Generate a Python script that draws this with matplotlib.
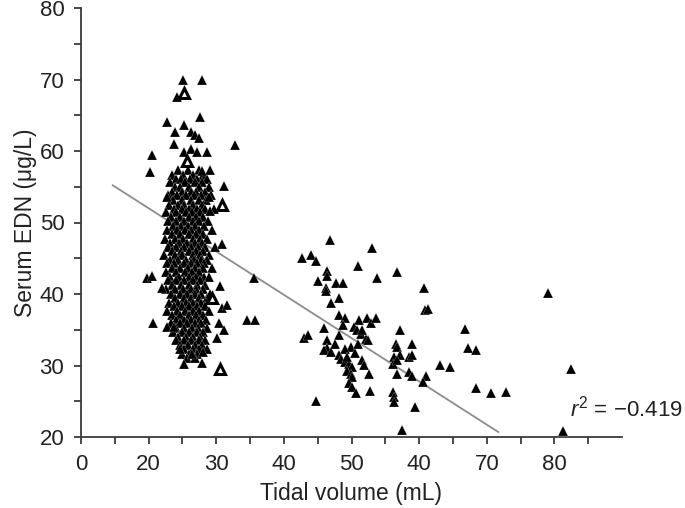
import matplotlib
matplotlib.use("Agg")
import matplotlib.pyplot as plt

plt.rcParams['font.family'] = ['Liberation Sans', 'DejaVu Sans']
plt.rcParams['mathtext.fontset'] = 'custom'
plt.rcParams['mathtext.rm'] = 'Liberation Sans'
plt.rcParams['mathtext.it'] = 'Liberation Sans:italic'

# ---- data ----
# dense core of the first cluster: one y value per row, several x values per row
dense_y = [57.3, 56.7, 56.1, 55.6, 55.0, 54.3, 53.8, 53.1, 52.5, 51.9, 51.4, 50.7,
           50.2, 49.5, 48.9, 48.4, 47.7, 47.2, 46.6, 46.0, 45.5, 44.8, 44.3, 43.6,
           43.1, 42.4, 41.9, 41.2, 40.7, 40.0, 39.5, 38.8, 38.3, 37.6, 37.1, 36.4,
           35.9, 35.2, 34.7, 34.0, 33.5, 32.8, 32.3, 31.6, 31.0]
dense_x = [
    [24.3, 25.8, 27.4],
    [23.4, 25.1, 26.5, 28.0],
    [24.0, 24.8, 26.1, 27.2, 28.6],
    [23.1, 25.4, 26.8, 27.9],
    [23.9, 24.6, 25.9, 27.5, 28.9],
    [23.4, 25.0, 26.3, 27.0, 28.3],
    [22.8, 24.2, 25.6, 26.7, 27.8, 29.2],
    [23.6, 24.9, 26.2, 27.4, 28.5],
    [23.0, 24.4, 25.3, 26.6, 27.9],
    [23.8, 25.0, 25.9, 27.1, 28.3, 29.6],
    [22.6, 24.1, 25.5, 26.4, 27.6],
    [23.3, 24.7, 26.0, 27.0, 28.1],
    [22.9, 24.0, 25.2, 26.6, 27.5, 28.8],
    [23.6, 24.8, 25.8, 26.9, 28.2],
    [22.7, 24.2, 25.4, 26.3, 27.4, 29.4],
    [23.4, 24.6, 26.0, 27.0, 28.0],
    [22.4, 23.9, 25.1, 26.5, 27.6, 28.7],
    [23.2, 24.5, 25.7, 26.8, 27.9],
    [22.8, 24.0, 25.3, 26.2, 27.3, 28.4, 29.8],
    [23.5, 24.8, 25.9, 27.0, 28.1],
    [22.3, 23.9, 25.0, 26.5, 27.6, 29.0],
    [23.1, 24.4, 25.6, 26.7, 27.8, 28.6],
    [22.7, 23.8, 25.2, 26.2, 27.2, 28.2],
    [23.4, 24.7, 25.8, 26.9, 28.0, 29.3],
    [22.5, 24.0, 25.4, 26.4, 27.5],
    [23.2, 24.5, 25.9, 27.0, 28.2, 29.0],
    [22.8, 24.1, 25.3, 26.6, 27.6],
    [23.5, 24.8, 26.0, 27.2, 28.4],
    [22.6, 23.9, 25.1, 26.3, 27.0, 28.0],
    [23.3, 24.6, 25.7, 26.8, 27.8],
    [23.9, 25.2, 26.3, 27.4, 28.6],
    [23.0, 24.4, 25.6, 26.6, 27.7],
    [23.7, 24.9, 26.0, 27.2, 28.3],
    [22.7, 24.2, 25.4, 26.5, 27.5, 28.9],
    [23.5, 24.7, 25.9, 27.0, 28.0],
    [24.0, 25.2, 26.3, 27.4, 28.5],
    [23.3, 24.6, 25.7, 26.8, 27.8],
    [24.1, 25.3, 26.4, 27.3, 28.6],
    [23.6, 24.9, 26.0, 27.1, 28.1],
    [24.4, 25.6, 26.6, 27.6],
    [24.0, 25.2, 26.3, 27.4, 28.4],
    [24.7, 25.8, 26.9, 27.9],
    [25.3, 26.5, 27.5, 28.6],
    [24.9, 26.0, 27.1],
    [25.7, 26.8],
]

# isolated points around the first cluster
outer1_x = [25.1, 27.9, 24.2, 22.7, 27.6, 25.2, 23.9, 26.2, 26.9, 27.5, 23.8, 32.8,
            20.5, 25.2, 26.2, 27.2, 28.6, 20.2, 29.1, 27.9, 31.1, 22.7, 28.9, 29.1,
            30.9, 35.6, 19.7, 20.5, 22.0, 30.6, 29.1, 30.9, 31.6, 20.7, 34.6, 35.8,
            22.7, 23.7, 30.4, 31.1, 30.1, 24.7, 26.4, 28.1, 25.2, 27.9]
outer1_y = [69.9, 69.9, 67.5, 64.0, 64.7, 63.7, 62.6, 62.7, 62.3, 61.8, 61.0, 60.9,
            59.4, 59.9, 60.3, 59.9, 59.9, 57.0, 57.4, 57.2, 55.1, 53.5, 53.5, 51.6,
            47.0, 42.2, 42.2, 42.5, 40.9, 41.1, 40.0, 38.1, 38.4, 36.0, 36.3, 36.3,
            35.4, 35.4, 35.9, 34.9, 33.9, 32.3, 31.6, 31.9, 30.2, 30.3]

# hollow-looking triangles
hollow_x = [25.2, 25.7, 30.9, 29.4, 30.6]
hollow_y = [68.1, 58.6, 52.4, 39.5, 29.5]

# second cluster and far points
c2_x = [46.8, 53.1, 42.7, 44.0, 44.7, 51.0, 46.4, 46.4, 56.7, 53.8, 45.0, 47.7,
        48.8, 46.2, 46.2, 60.7, 48.1, 46.9, 60.8, 61.3, 48.1, 49.1, 51.1, 52.3,
        52.9, 53.6, 45.9, 50.3, 50.8, 57.2, 66.8, 43.0, 43.5, 48.1, 51.4, 52.1,
        52.4, 46.4, 46.4, 56.6, 56.8, 59.0, 49.9, 49.1, 45.9, 46.9, 67.2, 68.4,
        48.1, 48.4, 56.3, 57.1, 58.5, 58.9, 49.1, 49.6, 50.1, 51.6, 51.9, 56.1,
        56.8, 63.1, 64.6, 49.4, 49.9, 50.1, 52.6, 56.8, 58.5, 59.0, 61.0, 60.5,
        49.6, 50.1, 50.6, 52.8, 56.1, 56.3, 56.3, 68.4, 70.7, 72.9, 44.7, 59.4,
        57.4, 79.1, 82.5, 81.3, 49.4, 50.5, 50.9, 47.5, 48.7, 51.6]
c2_y = [47.6, 46.5, 45.1, 45.4, 44.6, 43.9, 43.2, 42.5, 43.1, 42.3, 41.8, 41.6,
        41.6, 40.9, 40.4, 40.9, 39.5, 38.8, 37.7, 37.9, 37.0, 36.6, 36.3, 36.6,
        36.0, 36.6, 35.3, 35.4, 34.9, 34.9, 35.1, 33.9, 34.2, 34.2, 34.4, 33.7,
        33.5, 33.5, 32.5, 33.0, 32.6, 33.0, 32.6, 32.3, 32.1, 31.9, 32.5, 32.1,
        31.4, 30.9, 31.2, 31.4, 31.2, 31.4, 30.5, 30.2, 29.8, 30.7, 30.1, 30.2,
        30.7, 30.1, 29.8, 29.3, 28.8, 28.4, 28.8, 28.8, 29.1, 28.6, 28.6, 27.7,
        27.5, 27.0, 26.1, 26.5, 26.3, 25.6, 24.9, 26.8, 26.1, 26.3, 25.1, 24.2,
        21.0, 40.2, 29.5, 20.9, 31.2, 31.8, 33.0, 33.0, 35.6, 35.0]

# regression line end points
fit_x = [14.7, 71.7]
fit_y = [55.2, 20.7]

x_tick_values = [10, 20, 30, 40, 50, 60, 70, 80]
x_tick_labels = ['0', '20', '30', '40', '50', '40', '70', '80']
y_tick_values = [20, 30, 40, 50, 60, 70, 80]

# ---- figure ----
fig = plt.figure(figsize=(6.85, 5.08), dpi=100)
ax = fig.add_axes([81 / 685, 1 - 437 / 508, (622 - 81) / 685, (437 - 8) / 508])

ax.plot(fit_x, fit_y, color='#8c8c8c', lw=1.3, zorder=2)

xs, ys = [], []
for yv, row in zip(dense_y, dense_x):
    for xv in row:
        xs.append(xv)
        ys.append(yv)
xs += outer1_x + c2_x
ys += outer1_y + c2_y

ax.plot(xs, ys, linestyle='none', marker='^', markersize=7.8,
        markerfacecolor='black', markeredgecolor='white', markeredgewidth=0.15,
        zorder=3)
ax.plot(hollow_x, hollow_y, linestyle='none', marker='^', markersize=7.8,
        markerfacecolor='white', markeredgecolor='black', markeredgewidth=2.2,
        zorder=4)

ax.set_xlim(10, 90)
ax.set_ylim(20, 80)
ax.set_xticks(x_tick_values)
ax.set_xticklabels(x_tick_labels)
ax.set_xticks(list(range(15, 91, 10)), minor=True)
ax.set_yticks(y_tick_values)
ax.set_yticks(list(range(25, 80, 10)), minor=True)

spine_col = '#3a3a3a'
for s in ['top', 'right']:
    ax.spines[s].set_visible(False)
for s in ['left', 'bottom']:
    ax.spines[s].set_color(spine_col)
    ax.spines[s].set_linewidth(1.3)
ax.tick_params(which='both', direction='out', color=spine_col, width=1.3,
               labelsize=16, labelcolor='#222222')
ax.tick_params(which='major', length=5, pad=7)
ax.tick_params(which='minor', length=5)

ax.set_xlabel('Tidal volume (mL)', fontsize=16.5, color='#222222', labelpad=5)
ax.set_ylabel('Serum EDN (\u03bcg/L)', fontsize=16.5, color='#222222', labelpad=2)

ax.text(82.3, 24.0, '$r^2$ = \u22120.419', fontsize=16, color='#222222',
        ha='left', va='center', clip_on=False)

fig.savefig('out.png', dpi=100)
